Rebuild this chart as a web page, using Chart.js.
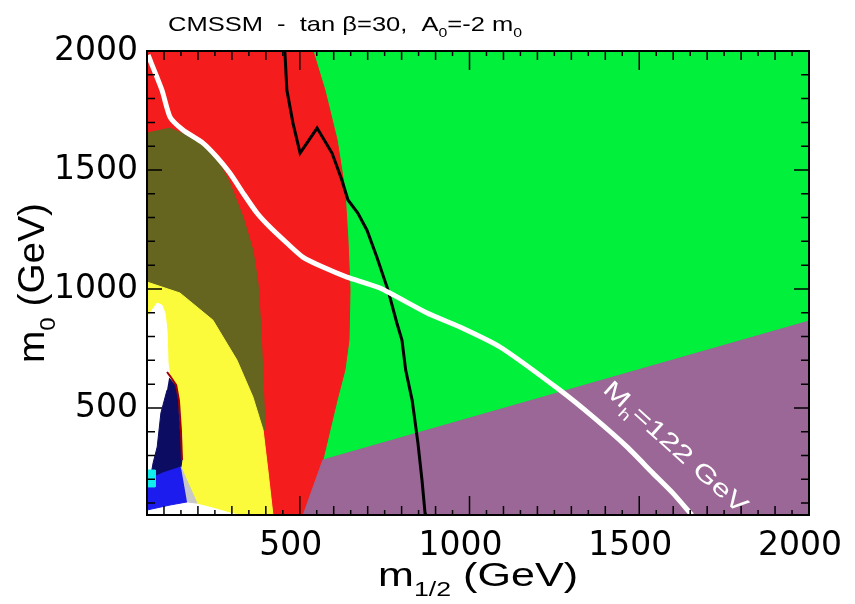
<!DOCTYPE html>
<html>
<head>
<meta charset="utf-8">
<script src="https://cdn.jsdelivr.net/npm/chart.js@4.4.0/dist/chart.umd.min.js"></script>
<style>
    html, body { margin: 0; padding: 0; background: #fff; }
</style>
</head>
<body>
<canvas id="ch" width="855" height="604"></canvas>
<script>
// axes (GeV)
const xRange = [50, 2000];
const yRange = [50, 2000];
const xTickLabels = [500, 1000, 1500, 2000];
const yTickLabels = [500, 1000, 1500, 2000];

// regions of the (m1/2, m0) plane, outlines as [m1/2, m0]
const greenRegion = [[50, 50], [50, 2000], [2000, 2000], [2000, 50]];
const redRegion = [[50, 2000], [539, 2000], [574, 1836], [610, 1626], [633, 1416], [642, 1205], [648, 995], [645, 785], [633, 659], [610, 533], [589, 407], [568, 281], [515, 50], [50, 50]];
const oliveRegion = [[50, 1655], [118, 1676], [197, 1626], [256, 1550], [294, 1445], [333, 1302], [362, 1163], [377, 1025], [386, 827], [392, 617], [398, 407], [50, 407]];
const yellowRegion = [[50, 1029], [147, 983], [244, 869], [315, 701], [362, 546], [392, 407], [406, 239], [421, 50], [50, 50]];
const whiteRegion = [[50, 882], [65, 911], [80, 941], [94, 932], [103, 899], [109, 827], [112, 689], [118, 630], [138, 588], [147, 479], [153, 378], [147, 252], [186, 100], [244, 79], [295, 58], [324, 50], [50, 50]];
const navyRegion = [[115, 626], [133, 596], [141, 546], [147, 407], [153, 281], [150, 252], [127, 239], [97, 227], [59, 197], [68, 269], [80, 336], [91, 479], [109, 575]];
const navyEdge = [[109, 651], [118, 634], [136, 596], [144, 533], [150, 407], [153, 281]];
const blueRegion = [[50, 197], [97, 227], [150, 252], [168, 105], [118, 92], [50, 71]];
const greyRegion = [[150, 252], [197, 100], [168, 105]];
const cyanRegion = [[50, 239], [74, 239], [74, 168], [50, 168]];
const purpleRegion = [[510, 50], [568, 281], [2000, 865], [2000, 50]];

// contours
const blackLine = [[456, 2000], [462, 1836], [480, 1697], [501, 1571], [551, 1676], [595, 1571], [624, 1458], [642, 1374], [671, 1319], [698, 1247], [727, 1134], [760, 995], [786, 857], [801, 785], [812, 659], [831, 533], [839, 449], [848, 353], [860, 197], [869, 58], [870, 50]];
const higgsLine = [[53, 1983], [94, 1836], [118, 1722], [156, 1668], [215, 1613], [256, 1554], [294, 1487], [333, 1403], [374, 1319], [412, 1260], [462, 1193], [509, 1134], [568, 1092], [639, 1050], [736, 1004], [875, 899], [972, 840], [1090, 756], [1266, 575], [1364, 462], [1464, 336], [1540, 226], [1599, 142], [1655, 50]];
const higgsLabelAt = [1608, 336];

let pts = a => a.map(([x, y]) => ({x, y}));

let region = (data, color, order) => ({
    data: pts(data), showLine: true, fill: 'shape', backgroundColor: color,
    borderColor: color, borderWidth: 1, pointRadius: 0, tension: 0, order: order
});

let curve = (data, color, width, order, tension) => ({
    data: pts(data), showLine: true, fill: false, borderColor: color,
    borderWidth: width, pointRadius: 0, tension: tension || 0, order: order
});

// text with subscripts: parts = [[text, isSub], ...]
let drawRich = (ctx, parts, x, y, size, o) => {
    const font = s => s + 'px "Liberation Sans", Arial, sans-serif';
    const widths = parts.map(([t, sub]) => {
        ctx.font = font(sub ? size * 0.62 : size);
        return ctx.measureText(t).width;
    });
    const total = widths.reduce((a, b) => a + b, 0);
    ctx.save();
    ctx.translate(x, y);
    if (o.rotate) ctx.rotate(o.rotate);
    ctx.scale(o.width ? o.width / total : 1, 1);
    let cx = o.align === 'center' ? -total / 2 : 0;
    ctx.textAlign = 'left';
    ctx.textBaseline = 'alphabetic';
    ctx.fillStyle = o.color || '#000';
    parts.forEach(([t, sub], i) => {
        ctx.font = font(sub ? size * 0.62 : size);
        ctx.fillText(t, cx, (sub ? size * 0.3 : 0) + (o.dy || 0));
        cx += widths[i];
    });
    ctx.restore();
};

const decor = {
    id: 'decor',
    afterDatasetsDraw(chart) {
        const {ctx, chartArea: a, scales: {x, y}} = chart;
        ctx.save();

        let lx = x.getPixelForValue(higgsLabelAt[0]);
        let ly = y.getPixelForValue(higgsLabelAt[1]);
        drawRich(ctx, [['M', 0], ['h', 1], ['=122 GeV', 0]], lx, ly, 24,
            {rotate: 42 * Math.PI / 180, width: 185, align: 'center', color: '#fff', dy: 8});

        // ticks pointing inwards on all four sides
        ctx.strokeStyle = '#000';
        ctx.lineWidth = 1.5;
        ctx.beginPath();
        for (let v = 100; v < 2000; v += 50) {
            const len = v % 500 === 0 ? 19 : v % 100 === 0 ? 9 : 5;
            const px = x.getPixelForValue(v);
            ctx.moveTo(px, a.bottom); ctx.lineTo(px, a.bottom - len);
            ctx.moveTo(px, a.top); ctx.lineTo(px, a.top + len);
        }
        for (let v = 100; v < 2000; v += 100) {
            const len = v % 500 === 0 ? 15 : 8;
            const py = y.getPixelForValue(v);
            ctx.moveTo(a.left, py); ctx.lineTo(a.left + len, py);
            ctx.moveTo(a.right, py); ctx.lineTo(a.right - len, py);
        }
        ctx.stroke();
        ctx.lineWidth = 2;
        ctx.strokeRect(a.left, a.top, a.right - a.left, a.bottom - a.top);

        drawRich(ctx, [['CMSSM  -  tan \u03b2=30,  A', 0], ['0', 1], ['=-2 m', 0], ['0', 1]], 168, 31, 21, {width: 354});
        drawRich(ctx, [['m', 0], ['1/2', 1], [' (GeV)', 0]], (a.left + a.right) / 2, 586, 34, {width: 200, align: 'center'});
        drawRich(ctx, [['m', 0], ['0', 1], [' (GeV)', 0]], 44, (a.top + a.bottom) / 2, 36, {width: 160, align: 'center', rotate: -Math.PI / 2});
        ctx.restore();
    }
};

let tickFont = {family: '"DejaVu Sans", sans-serif', size: 33};

let chart = new Chart('ch', {
    type: 'scatter',
    data: {
        datasets: [
            region(greenRegion, '#00f03c', 100),
            region(redRegion, '#f41c1c', 90),
            region(oliveRegion, '#656520', 80),
            region(yellowRegion, '#fbfb3c', 70),
            region(whiteRegion, '#ffffff', 60),
            region(navyRegion, '#0c0c62', 50),
            curve(navyEdge, '#a00000', 2, 49),
            region(blueRegion, '#1c1cee', 45),
            region(greyRegion, '#c8c8c8', 44),
            region(cyanRegion, '#12eeee', 43),
            region(purpleRegion, '#9a6796', 30),
            curve(blackLine, '#000000', 3, 20),
            curve(higgsLine, '#ffffff', 5, 10, 0.2)
        ]
    },
    options: {
        responsive: false,
        animation: false,
        events: [],
        layout: {padding: {left: 0, right: 46, top: 51, bottom: 0}},
        plugins: {legend: {display: false}, tooltip: {enabled: false}},
        scales: {
            x: {
                type: 'linear', min: xRange[0], max: xRange[1],
                afterBuildTicks: s => { s.ticks = xTickLabels.map(v => ({value: v})); },
                afterFit: s => { s.height = 89; s.paddingLeft = 0; s.paddingRight = 0; },
                grid: {display: false, drawTicks: false},
                border: {display: false},
                ticks: {font: tickFont, color: '#000', padding: 12, maxRotation: 0, autoSkip: false,
                        labelOffset: -9, callback: v => String(v)}
            },
            y: {
                type: 'linear', min: yRange[0], max: yRange[1],
                afterBuildTicks: s => { s.ticks = yTickLabels.map(v => ({value: v})); },
                afterFit: s => { s.width = 147; s.paddingTop = 0; s.paddingBottom = 0; },
                grid: {display: false, drawTicks: false},
                border: {display: false},
                ticks: {font: tickFont, color: '#000', padding: 9, autoSkip: false, callback: v => String(v)}
            }
        }
    },
    plugins: [decor]
});
</script>
</body>
</html>
